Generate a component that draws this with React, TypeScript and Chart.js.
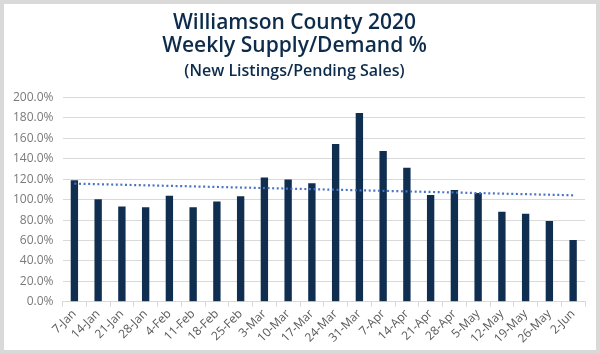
import React, { useEffect, useRef } from "react";
import { Chart, registerables } from "chart.js";

Chart.register(...registerables);

const categories = ["7-Jan","14-Jan","21-Jan","28-Jan","4-Feb","11-Feb","18-Feb","25-Feb","3-Mar","10-Mar","17-Mar","24-Mar","31-Mar","7-Apr","14-Apr","21-Apr","28-Apr","5-May","12-May","19-May","26-May","2-Jun"];
const ratioValues = [119.1,100.3,93.4,92.7,103.9,92.7,98.3,103.3,121.7,119.7,116.1,154.6,184.8,147.7,131.2,104.6,109.5,106.6,88.1,86.1,79.2,60.5];
const trendStart = 115.7;
const trendEnd = 104.3;
const titleLines = ["Williamson County 2020", "Weekly Supply/Demand %"];
const subtitleText = "(New Listings/Pending Sales)";

export default function App() {
  const ref = useRef<HTMLCanvasElement>(null);
  useEffect(() => {
    document.body.style.margin = "0";
    const trendData = categories.map((_, i) =>
      i === 0 ? trendStart : i === categories.length - 1 ? trendEnd : null
    );
    const navy = "#0f2e50";
    const chart = new Chart(ref.current!, {
      type: "bar",
      data: {
        labels: categories,
        datasets: [
          {
            type: "line",
            data: trendData as any,
            borderColor: "#4a74c2",
            borderWidth: 2.2,
            borderDash: [2, 2.6],
            pointRadius: 0,
            spanGaps: true,
            fill: false,
            order: 0,
          },
          {
            type: "bar",
            data: ratioValues,
            backgroundColor: navy,
            barPercentage: 0.31,
            categoryPercentage: 1,
            order: 1,
          },
        ],
      },
      options: {
        animation: false,
        responsive: true,
        maintainAspectRatio: false,
        font: { family: "'Open Sans', sans-serif" } as any,
        layout: { padding: { left: 0, right: 11, top: 0, bottom: 4 } },
        plugins: {
          legend: { display: false },
          tooltip: { enabled: false },
          title: {
            display: true,
            text: titleLines,
            color: "#0d2c4c",
            font: { family: "'Open Sans', sans-serif", size: 21, weight: "600" as any, lineHeight: 1.08 },
            padding: { top: 8, bottom: 0 },
          },
          subtitle: {
            display: true,
            text: subtitleText,
            color: "#0d2c4c",
            font: { family: "'Open Sans', sans-serif", size: 16, weight: "600" as any, lineHeight: 1.2 },
            padding: { top: 4, bottom: 17 },
          },
        },
        scales: {
          x: {
            grid: {
              offset: true,
              drawOnChartArea: false,
              drawTicks: true,
              tickLength: 5,
              color: "#d9d9d9",
            },
            border: { color: "#d9d9d9" },
            ticks: {
              maxRotation: 45,
              minRotation: 45,
              autoSkip: false,
              color: "#595959",
              padding: 0,
              font: { family: "'Open Sans', sans-serif", size: 12 },
            },
          },
          y: {
            min: 0,
            max: 200,
            grid: { color: "#d9d9d9", drawTicks: false },
            border: { display: false },
            ticks: {
              stepSize: 20,
              padding: 9,
              color: "#7a7a7a",
              font: { family: "'Open Sans', sans-serif", size: 12 },
              callback: (v: any) => Number(v).toFixed(1) + "%",
            },
          },
        },
      },
    });
    return () => chart.destroy();
  }, []);
  return (
    <div
      style={{
        position: "absolute",
        left: 0,
        top: 0,
        width: 600,
        height: 354,
        boxSizing: "border-box",
        border: "4px solid #d9d9d9",
        background: "#fff",
      }}
    >
      <canvas ref={ref} />
    </div>
  );
}
